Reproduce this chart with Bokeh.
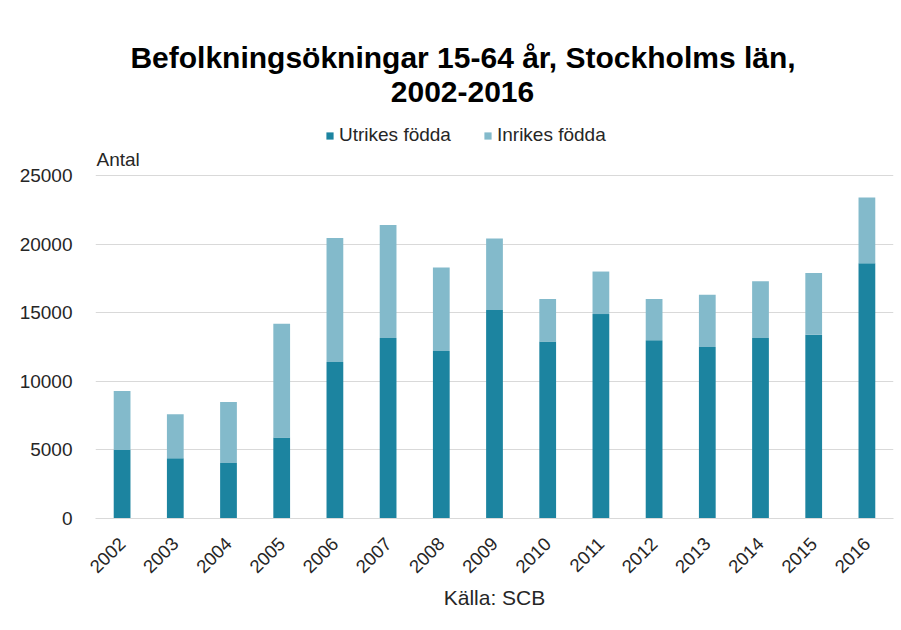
from bokeh.plotting import figure
from bokeh.models import ColumnDataSource, FactorRange, Range1d, Label, Legend, LegendItem, FixedTicker
from bokeh.embed import file_html
from bokeh.resources import INLINE
import math

years = [str(y) for y in range(2002, 2017)]
utrikes = [5000, 4400, 4050, 5900, 11400, 13150, 12200, 15200, 12900, 14900, 13000, 12500, 13150, 13400, 18600]
inrikes = [4300, 3200, 4450, 8300, 9050, 8250, 6100, 5200, 3100, 3100, 3000, 3800, 4150, 4500, 4800]
series_names = ["Utrikes födda", "Inrikes födda"]
colors = ["#1C84A0", "#83BACB"]
y_ticks = [0, 5000, 10000, 15000, 20000, 25000]
y_max = 25000

FONT = "Liberation Sans"
TXT = "#262626"

# frame spans the full height above the x axis so that the title block can live inside it;
# the value axis still runs 0..25000 over the lower 343 px
FRAME_LEFT, FRAME_BOTTOM, AXIS_PX = 95, 518, 343
y_top = y_max * FRAME_BOTTOM / AXIS_PX

source = ColumnDataSource(dict(year=years, u=utrikes, i=inrikes))

p = figure(x_range=FactorRange(*years, range_padding=0), y_range=Range1d(0, y_top),
           width=901, height=630, output_backend="svg", toolbar_location=None,
           min_border_left=FRAME_LEFT, min_border_right=8, min_border_top=0,
           min_border_bottom=630 - FRAME_BOTTOM)

r = p.vbar_stack(["u", "i"], x="year", width=0.315, source=source, color=colors, line_color=None)

p.outline_line_color = None
p.xgrid.grid_line_color = None
p.ygrid.grid_line_color = "#D9D9D9"
p.ygrid.grid_line_width = 1
p.yaxis.ticker = FixedTicker(ticks=y_ticks)
p.yaxis.axis_line_color = None
p.yaxis.major_tick_line_color = None
p.yaxis.minor_tick_line_color = None
p.yaxis.major_label_standoff = 17
p.yaxis.major_label_text_font = FONT
p.yaxis.major_label_text_font_size = "19px"
p.yaxis.major_label_text_color = TXT

p.xaxis.axis_line_color = "#D9D9D9"
p.xaxis.axis_line_width = 1
p.xaxis.major_tick_line_color = None
p.xaxis.minor_tick_line_color = None
p.xaxis.major_label_orientation = math.pi / 4
p.xaxis.major_label_standoff = 16
p.xaxis.major_label_text_font = FONT
p.xaxis.major_label_text_font_size = "18.5px"
p.xaxis.major_label_text_color = TXT
p.xaxis.axis_label = "Källa: SCB"
p.xaxis.axis_label_text_font = FONT
p.xaxis.axis_label_text_font_size = "21px"
p.xaxis.axis_label_text_font_style = "normal"
p.xaxis.axis_label_text_color = TXT
p.xaxis.axis_label_standoff = 4

def lab(text, x, y, size, align="left", bold=False, color=TXT):
    p.add_layout(Label(x=x, y=y, x_units="screen", y_units="screen", text=text,
                       text_font=FONT, text_font_size=size, text_align=align,
                       text_baseline="alphabetic", text_color=color,
                       text_font_style="bold" if bold else "normal"))

lab("Befolkningsökningar 15-64 år, Stockholms län,", 462.5 - FRAME_LEFT, FRAME_BOTTOM - 56.7, "30px", "center", True, "black")
lab("2002-2016", 462 - FRAME_LEFT, FRAME_BOTTOM - 91.7, "30px", "center", True, "black")
lab("Antal", 1, FRAME_BOTTOM - 159, "19px")

legend = Legend(items=[LegendItem(label=series_names[k], renderers=[r[k]]) for k in range(2)],
                orientation="horizontal", location=(230, 372), glyph_width=9, glyph_height=9,
                label_standoff=5, spacing=32, padding=0, margin=0, border_line_color=None,
                background_fill_alpha=0, label_text_font=FONT, label_text_font_size="19px",
                label_text_color=TXT, label_height=20)
p.add_layout(legend, "center")

open("out.html", "w").write(file_html(p, INLINE))
